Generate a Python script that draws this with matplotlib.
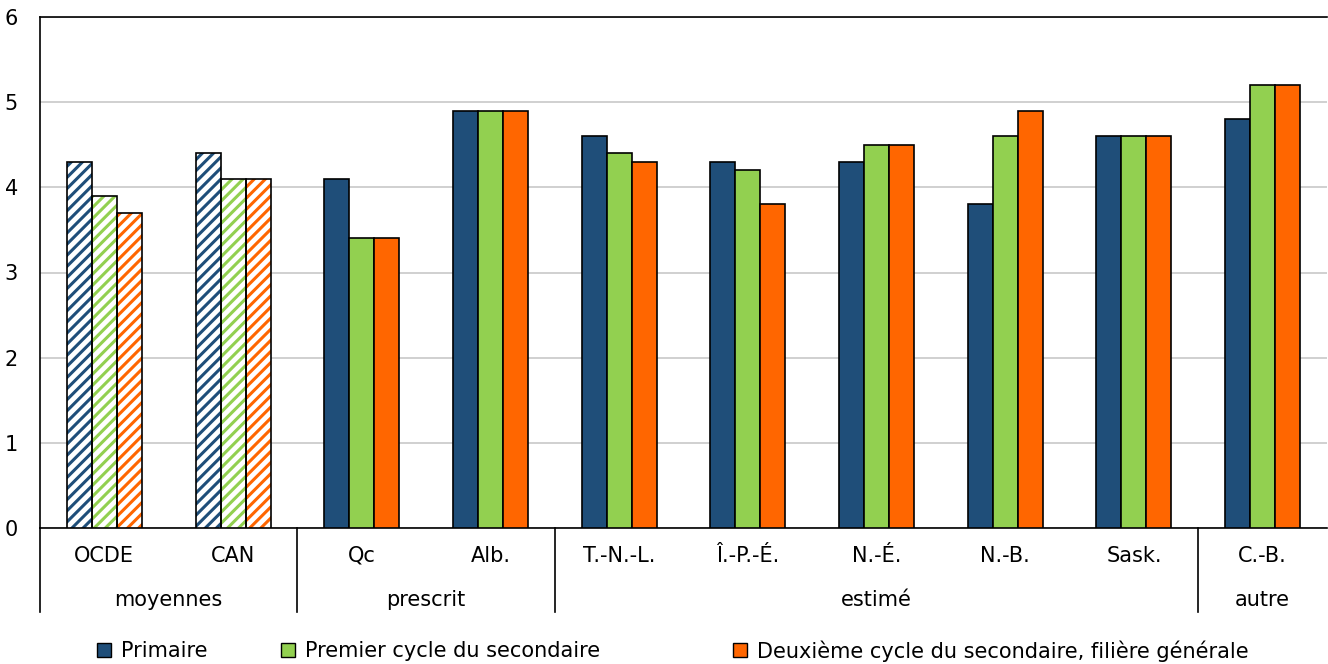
import numpy as np
import matplotlib.pyplot as plt
from matplotlib.patches import Patch

categories = ["OCDE", "CAN", "Qc", "Alb.", "T.-N.-L.", "Î.-P.-É.", "N.-É.", "N.-B.", "Sask.", "C.-B."]
primaire = [4.3, 4.4, 4.1, 4.9, 4.6, 4.3, 4.3, 3.8, 4.6, 4.8]
premier = [3.9, 4.1, 3.4, 4.9, 4.4, 4.2, 4.5, 4.6, 4.6, 5.2]
deuxieme = [3.7, 4.1, 3.4, 4.9, 4.3, 3.8, 4.5, 4.9, 4.6, 5.2]
series_names = ["Primaire", "Premier cycle du secondaire",
                "Deuxième cycle du secondaire, filière générale"]
groups = [("moyennes", 0, 1), ("prescrit", 2, 3), ("estimé", 4, 8), ("autre", 9, 9)]
hatched = [True, True] + [False] * 8

colors = ["#1F4E79", "#92D050", "#FF6600"]

plt.rcParams['font.family'] = ['DejaVu Sans']
plt.rcParams['hatch.linewidth'] = 2.2

fig = plt.figure(figsize=(13.28, 6.64), dpi=100)
ax = fig.add_axes([40/1328, 1-528/664, 1287/1328, 511/664])

x = np.arange(len(categories))
w = 0.194
for k, vals in enumerate([primaire, premier, deuxieme]):
    pos = x + (k - 1) * w
    for i in range(len(categories)):
        if hatched[i]:
            ax.bar(pos[i], vals[i], w, color="white", edgecolor=colors[k],
                   hatch="///", linewidth=0, zorder=3)
            ax.bar(pos[i], vals[i], w, fill=False, edgecolor="black",
                   linewidth=1.2, zorder=4)
        else:
            ax.bar(pos[i], vals[i], w, color=colors[k], edgecolor="black",
                   linewidth=1.2, zorder=3)

ax.set_xlim(-0.5, len(categories) - 0.5)
ax.set_ylim(0, 6)
ax.set_yticks(range(7))
ax.yaxis.grid(True, color="#C8C8C8", linewidth=1.2, zorder=0)
ax.set_axisbelow(True)
ax.tick_params(axis="y", length=0, pad=16, labelsize=15)
ax.set_xticks([])
for s in ["top", "left", "bottom"]:
    ax.spines[s].set_color("black")
    ax.spines[s].set_linewidth(1.2)
ax.spines["right"].set_visible(False)

trans = ax.get_xaxis_transform()
h = 511.0
for i, c in enumerate(categories):
    ax.text(i, -28/h, c, transform=trans, ha="center", va="center", fontsize=15)
bounds = [-0.5]
for name, a, b in groups:
    ax.text((a + b) / 2, -72/h, name, transform=trans, ha="center", va="center", fontsize=15)
    bounds.append(b + 0.5)
for bx in bounds[:-1]:
    ax.plot([bx, bx], [0, -84/h], transform=trans, color="black", lw=1.2, clip_on=False)

# legend: one entry per box, placed like the original
leg_x = [97, 281, 733]
for k in range(3):
    hnd = Patch(facecolor=colors[k], edgecolor="black", linewidth=1)
    lg = fig.legend([hnd], [series_names[k]], loc="center left",
                    bbox_to_anchor=(leg_x[k]/1328, 1-651/664), frameon=False,
                    fontsize=15, handlelength=0.65, handleheight=0.65,
                    handletextpad=0.5, borderpad=0, borderaxespad=0)

fig.savefig("out.png", dpi=100)
